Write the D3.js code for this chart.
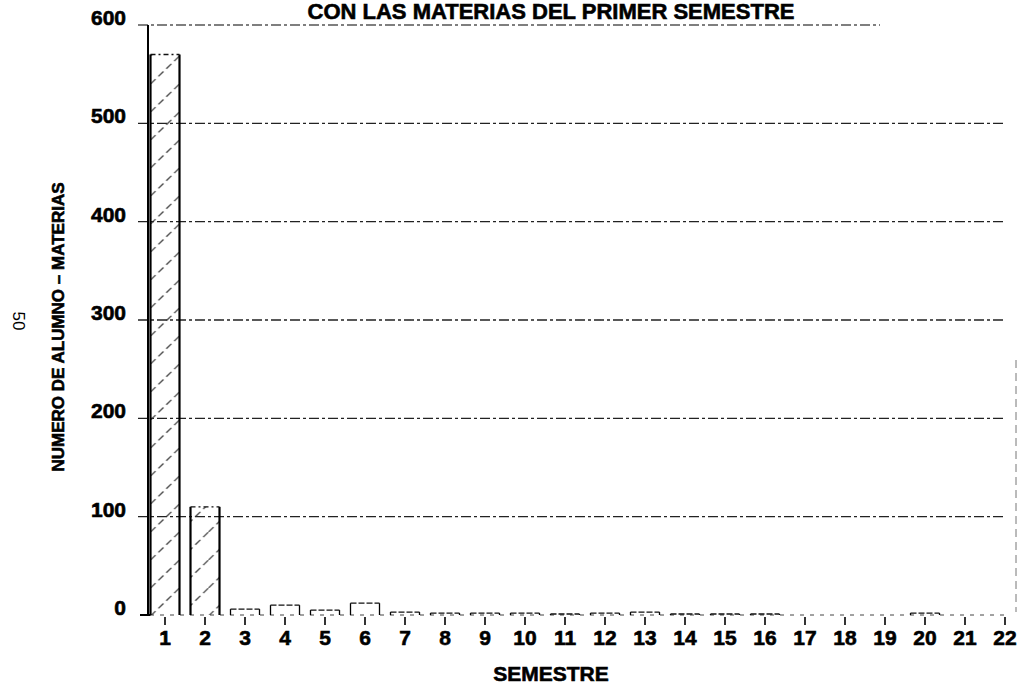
<!DOCTYPE html>
<html>
<head>
<meta charset="utf-8">
<script src="https://cdn.jsdelivr.net/npm/d3@7"></script>
<style>
  body { margin: 0; background: #fff; }
  svg { display: block; font-family: "Liberation Sans", Arial, sans-serif; }
  .heavy { stroke: #000; stroke-width: 0.6px; }
</style>
</head>
<body>
<svg id="chart" width="1018" height="686"></svg>
<script>
const semestres = ["1","2","3","4","5","6","7","8","9","10","11","12","13","14","15","16","17","18","19","20","21","22"];
const alumnos = [570, 110, 6, 10, 5, 12, 3, 2, 2, 2, 1, 2, 3, 1, 1, 1, 0, 0, 0, 2, 0, 0];
const yTicks = [0, 100, 200, 300, 400, 500, 600];

const width = 1018;
const height = 686;
const svg = d3.select("#chart");

const x = d3
  .scaleBand()
  .domain(semestres)
  .range([145, 1025])
  .paddingInner(0.275)
  .paddingOuter(0.1375);

const y = d3.scaleLinear().domain([0, 600]).range([615, 25]);

// hatching for the tall bars
const defs = svg.append("defs");
const pat = defs
  .append("pattern")
  .attr("id", "hatch")
  .attr("patternUnits", "userSpaceOnUse")
  .attr("width", 29)
  .attr("height", 28)
  .attr("x", x("1"));
pat
  .append("line")
  .attr("x1", 0)
  .attr("y1", 28)
  .attr("x2", 29)
  .attr("y2", 0)
  .attr("stroke", "#333")
  .attr("stroke-width", 1.2)
  .attr("stroke-dasharray", "7,4");

// title (top of page is cut in the scan)
svg
  .append("text")
  .attr("class", "heavy")
  .attr("x", 551)
  .attr("y", 19)
  .attr("text-anchor", "middle")
  .attr("font-size", "22px")
  .attr("font-weight", "bold")
  .text("CON LAS MATERIAS DEL PRIMER SEMESTRE");

// grid lines
svg
  .append("g")
  .selectAll("line")
  .data(yTicks.filter((d) => d > 0))
  .join("line")
  .attr("x1", 138)
  .attr("x2", (d) => (d === 600 ? 880 : 1005))
  .attr("y1", (d) => y(d))
  .attr("y2", (d) => y(d))
  .attr("stroke", (d) => (d === 600 ? "#555" : "#222"))
  .attr("stroke-width", 1.4)
  .attr("stroke-dasharray", "10,3,3,3");

// y tick labels
svg
  .append("g")
  .selectAll("text")
  .data(yTicks)
  .join("text")
  .attr("class", "heavy")
  .attr("x", 126)
  .attr("y", (d) => y(d))
  .attr("text-anchor", "end")
  .attr("font-size", "21px")
  .attr("font-weight", "bold")
  .text((d) => d);

// faint baseline
svg
  .append("line")
  .attr("x1", 140)
  .attr("x2", 1005)
  .attr("y1", y(0))
  .attr("y2", y(0))
  .attr("stroke", "#444")
  .attr("stroke-width", 1)
  .attr("stroke-dasharray", "4,6");
svg
  .append("line")
  .attr("x1", 140)
  .attr("x2", x("1"))
  .attr("y1", y(0))
  .attr("y2", y(0))
  .attr("stroke", "#000")
  .attr("stroke-width", 2);

// bars
const bars = svg.append("g");
bars
  .selectAll("rect")
  .data(alumnos)
  .join("rect")
  .attr("x", (d, i) => x(semestres[i]))
  .attr("y", (d) => y(d))
  .attr("width", x.bandwidth())
  .attr("height", (d) => y(0) - y(d))
  .attr("fill", (d) => (d > 50 ? "url(#hatch)" : "none"))
  .attr("stroke", "none");

// bar sides solid, tops dotted
bars
  .selectAll(".side")
  .data(alumnos.flatMap((d, i) => (d > 0 ? [[i, 0], [i, 1]] : [])))
  .join("line")
  .attr("class", "side")
  .attr("x1", ([i, s]) => x(semestres[i]) + s * x.bandwidth())
  .attr("x2", ([i, s]) => x(semestres[i]) + s * x.bandwidth())
  .attr("y1", ([i]) => y(alumnos[i]))
  .attr("y2", y(0))
  .attr("stroke", "#000")
  .attr("stroke-width", ([i]) => (alumnos[i] > 50 ? 2.2 : 1.3));
bars
  .selectAll(".top")
  .data(alumnos)
  .join("line")
  .attr("class", "top")
  .attr("x1", (d, i) => x(semestres[i]))
  .attr("x2", (d, i) => x(semestres[i]) + x.bandwidth())
  .attr("y1", (d) => y(d))
  .attr("y2", (d) => y(d))
  .attr("stroke", "#111")
  .attr("stroke-width", 1.3)
  .attr("stroke-dasharray", (d) => (d > 50 ? "5,3,2,3" : "6,2"))
  .attr("opacity", (d) => (d > 0 ? 1 : 0));

// y axis line
svg
  .append("line")
  .attr("x1", 148)
  .attr("x2", 148)
  .attr("y1", y(600))
  .attr("y2", y(0))
  .attr("stroke", "#000")
  .attr("stroke-width", 2);

// x ticks and labels
const xAxis = svg.append("g");
xAxis
  .selectAll("line")
  .data(semestres)
  .join("line")
  .attr("x1", (d) => x(d) + x.bandwidth() / 2)
  .attr("x2", (d) => x(d) + x.bandwidth() / 2)
  .attr("y1", y(0) + 2)
  .attr("y2", y(0) + 10)
  .attr("stroke", "#000")
  .attr("stroke-width", 1.6);
xAxis
  .selectAll("text")
  .data(semestres)
  .join("text")
  .attr("class", "heavy")
  .attr("x", (d) => x(d) + x.bandwidth() / 2)
  .attr("y", 645)
  .attr("text-anchor", "middle")
  .attr("font-size", "21px")
  .attr("font-weight", "bold")
  .text((d) => d);

// axis titles
svg
  .append("text")
  .attr("class", "heavy")
  .attr("x", 551)
  .attr("y", 681)
  .attr("text-anchor", "middle")
  .attr("font-size", "21px")
  .attr("font-weight", "bold")
  .text("SEMESTRE");

svg
  .append("text")
  .attr("class", "heavy")
  .attr("transform", "translate(64,327) rotate(-90)")
  .attr("text-anchor", "middle")
  .attr("font-size", "17px")
  .attr("font-weight", "bold")
  .text("NUMERO DE ALUMNO – MATERIAS");

// page number
svg
  .append("text")
  .attr("transform", "translate(13,321) rotate(90)")
  .attr("text-anchor", "middle")
  .attr("font-size", "17px")
  .text("50");

// scan edge on right
svg
  .append("line")
  .attr("x1", 1016)
  .attr("x2", 1016)
  .attr("y1", 360)
  .attr("y2", 612)
  .attr("stroke", "#777")
  .attr("stroke-width", 1)
  .attr("stroke-dasharray", "8,5");
</script>
</body>
</html>
